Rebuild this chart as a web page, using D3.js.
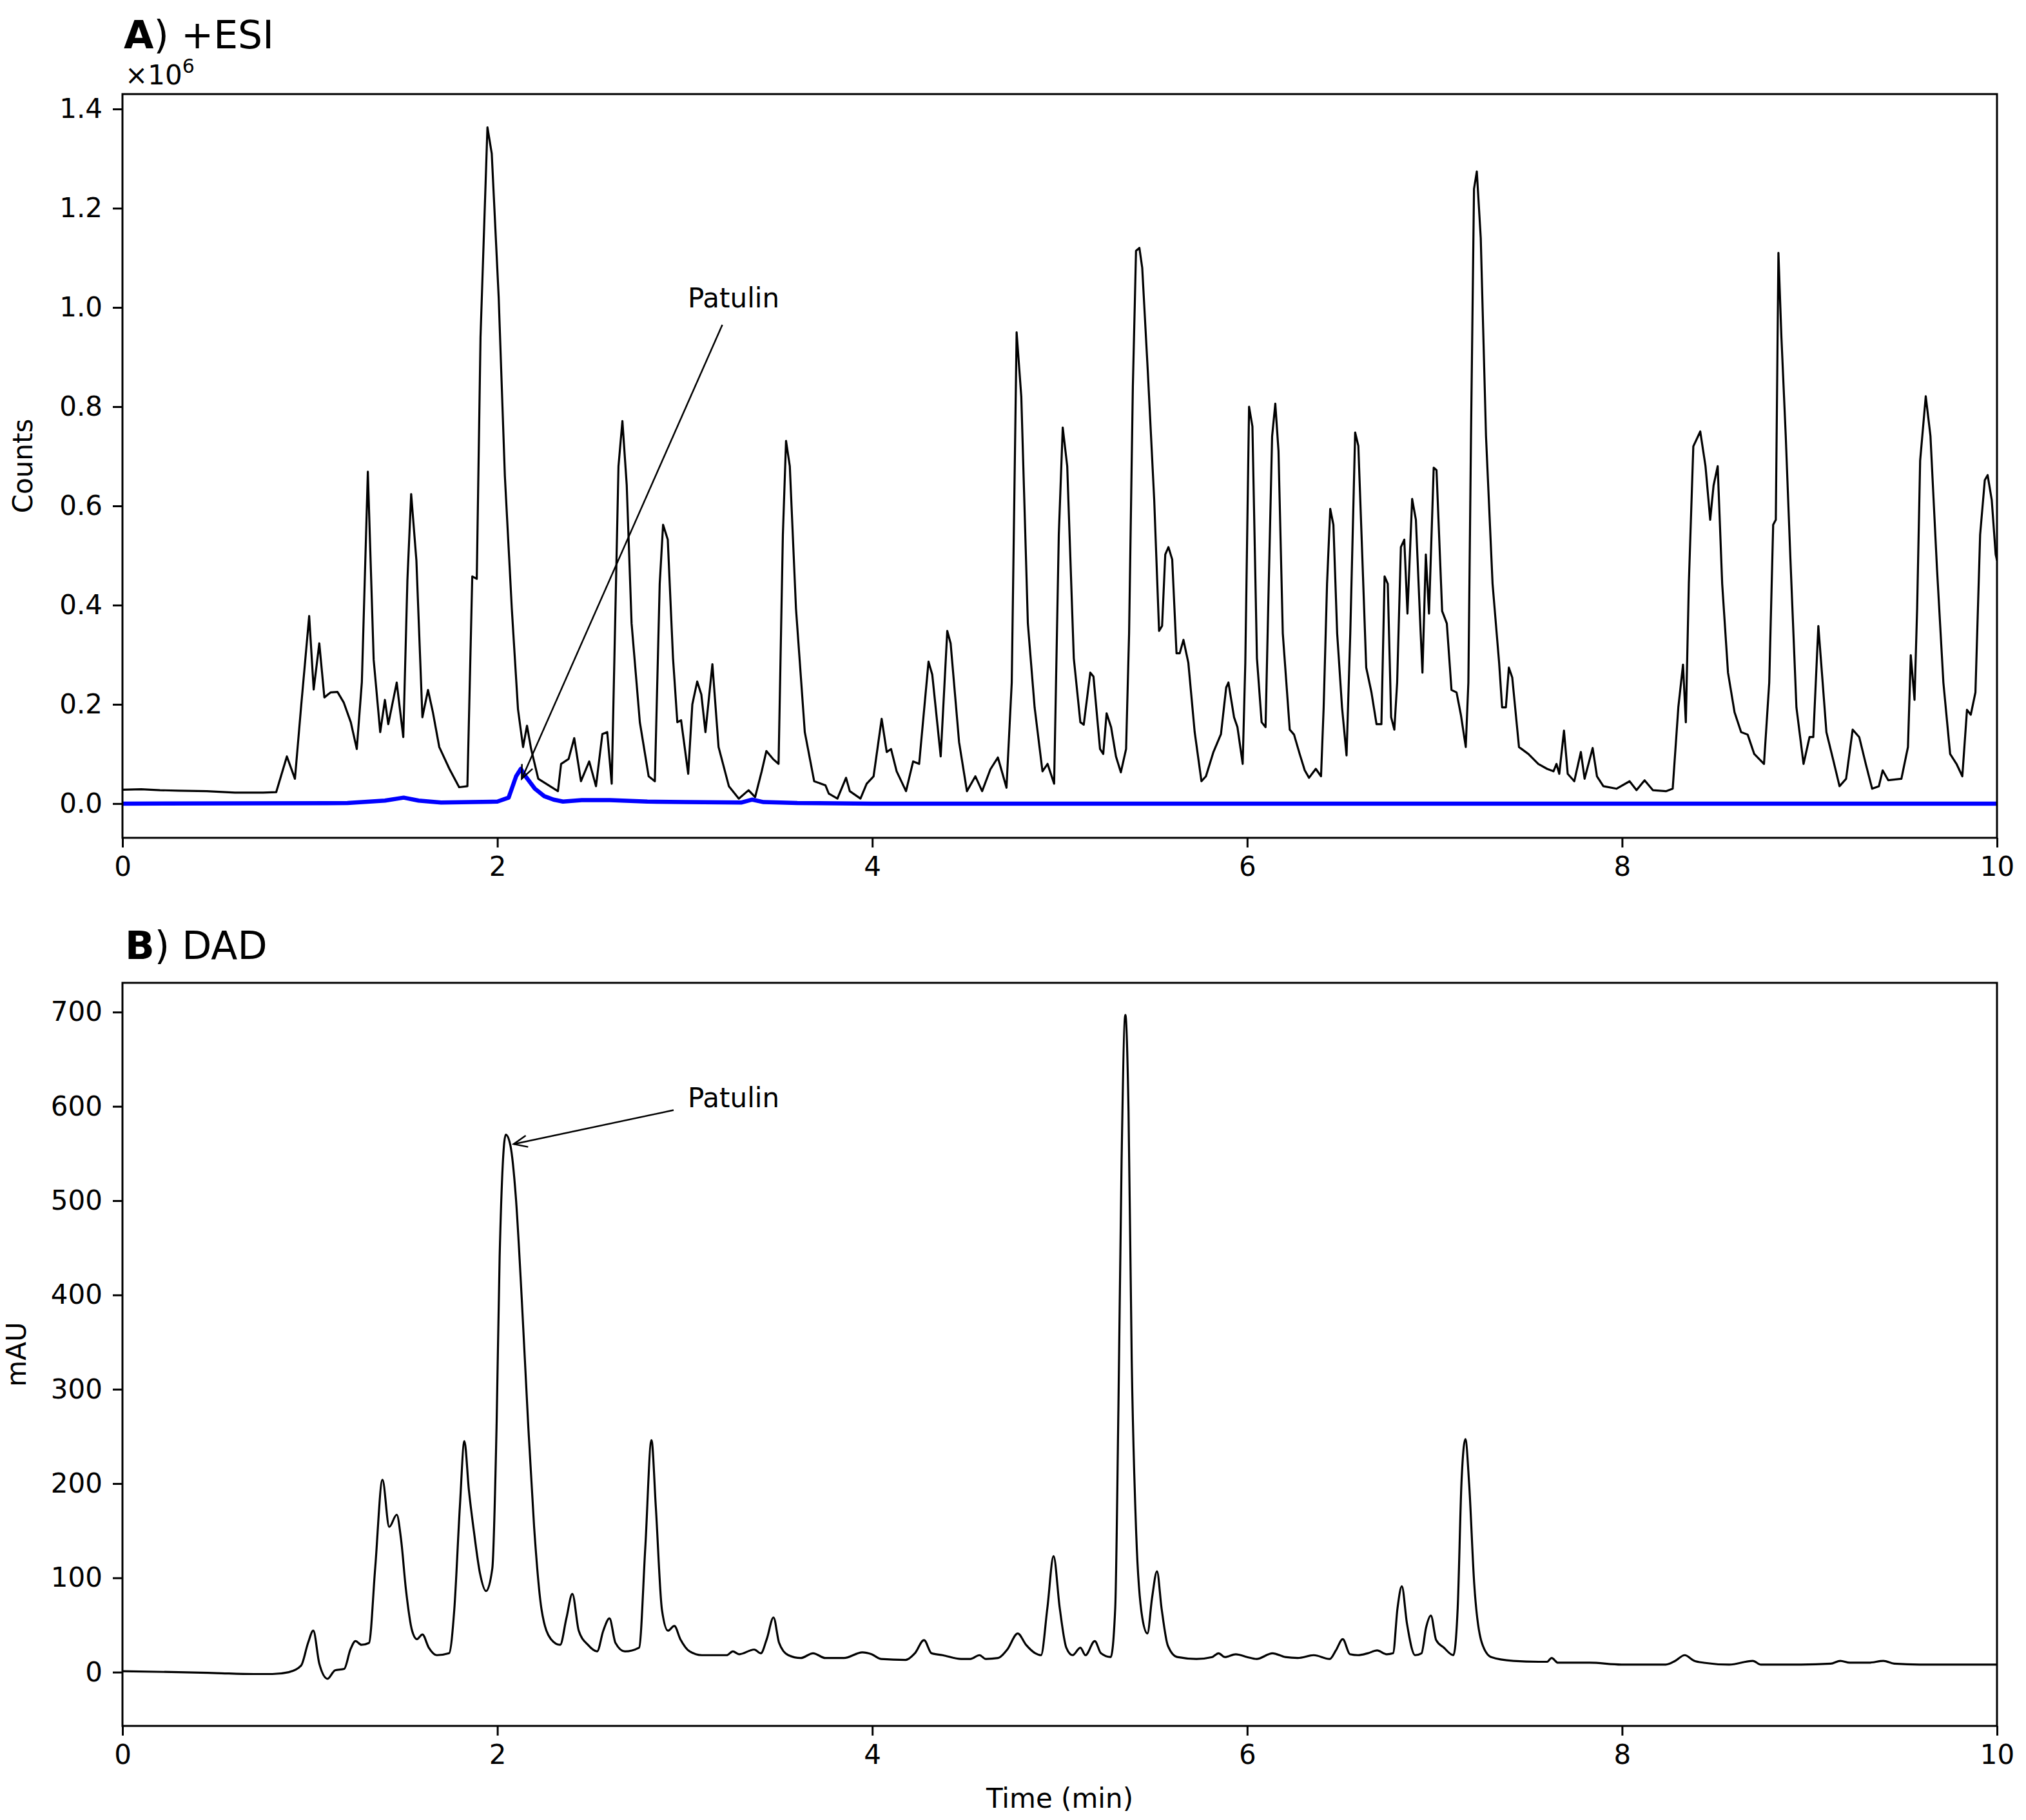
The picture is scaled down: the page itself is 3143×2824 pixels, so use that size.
<!DOCTYPE html>
<html>
<head>
<meta charset="utf-8">
<script src="https://cdn.jsdelivr.net/npm/d3@7"></script>
<style>
  body { margin: 0; background: #fff; }
  text { font-family: "DejaVu Sans", sans-serif; }
</style>
</head>
<body>
<div id="chart"></div>
<script>
// ---- data ----
// panel A: +ESI total ion chromatogram (counts x10^6)
const esiTime = [0,0.1,0.2,0.3,0.45,0.6,0.75,0.82,0.877,0.92,0.954,0.996,1.02,1.05,1.077,1.11,1.147,1.18,1.218,1.25,1.277,1.309,1.34,1.375,1.4,1.418,1.463,1.498,1.52,1.54,1.568,1.6,1.63,1.656,1.69,1.744,1.796,1.84,1.866,1.89,1.91,1.947,1.97,2.007,2.04,2.077,2.11,2.137,2.158,2.18,2.218,2.323,2.34,2.38,2.41,2.446,2.49,2.526,2.56,2.586,2.61,2.646,2.667,2.69,2.716,2.76,2.807,2.84,2.866,2.884,2.909,2.937,2.96,2.98,3.018,3.04,3.066,3.088,3.11,3.147,3.18,3.235,3.288,3.34,3.375,3.41,3.435,3.47,3.5,3.523,3.54,3.56,3.593,3.64,3.69,3.75,3.768,3.814,3.86,3.88,3.937,3.97,4.007,4.05,4.077,4.1,4.13,4.18,4.218,4.25,4.3,4.32,4.365,4.4,4.418,4.463,4.505,4.55,4.586,4.63,4.67,4.716,4.744,4.77,4.795,4.83,4.866,4.908,4.935,4.97,4.995,5.016,5.04,5.075,5.11,5.128,5.163,5.18,5.215,5.232,5.25,5.274,5.3,5.326,5.354,5.37,5.39,5.407,5.425,5.44,5.47,5.504,5.53,5.546,5.563,5.58,5.6,5.623,5.64,5.66,5.686,5.72,5.756,5.78,5.82,5.86,5.888,5.9,5.93,5.948,5.976,5.99,6.01,6.028,6.052,6.077,6.098,6.115,6.133,6.15,6.167,6.19,6.227,6.25,6.28,6.307,6.33,6.366,6.394,6.408,6.426,6.443,6.46,6.48,6.506,6.53,6.55,6.576,6.593,6.61,6.635,6.663,6.69,6.716,6.733,6.75,6.768,6.785,6.8,6.82,6.838,6.855,6.88,6.9,6.925,6.935,6.953,6.97,6.995,7.01,7.04,7.065,7.09,7.117,7.14,7.166,7.18,7.194,7.21,7.225,7.246,7.274,7.309,7.344,7.36,7.38,7.396,7.414,7.45,7.5,7.553,7.6,7.634,7.65,7.665,7.69,7.71,7.745,7.78,7.8,7.843,7.866,7.9,7.97,8.04,8.077,8.12,8.164,8.234,8.27,8.3,8.325,8.34,8.356,8.38,8.417,8.445,8.47,8.488,8.51,8.534,8.565,8.6,8.635,8.67,8.705,8.757,8.785,8.806,8.82,8.834,8.85,8.873,8.898,8.93,8.968,9.0,9.02,9.047,9.07,9.09,9.125,9.16,9.195,9.23,9.265,9.3,9.334,9.37,9.39,9.42,9.49,9.525,9.54,9.56,9.574,9.59,9.62,9.645,9.68,9.714,9.75,9.784,9.815,9.84,9.86,9.885,9.91,9.935,9.95,9.972,9.993,10];
const esiCounts = [0.028,0.029,0.027,0.026,0.025,0.022,0.022,0.023,0.095,0.05,0.2,0.378,0.23,0.323,0.214,0.224,0.225,0.204,0.164,0.11,0.245,0.669,0.29,0.144,0.209,0.16,0.244,0.134,0.45,0.624,0.49,0.174,0.229,0.184,0.114,0.07,0.033,0.035,0.458,0.453,0.94,1.363,1.31,1.02,0.66,0.393,0.19,0.114,0.157,0.11,0.05,0.025,0.08,0.09,0.132,0.045,0.085,0.035,0.14,0.144,0.04,0.68,0.771,0.642,0.363,0.164,0.055,0.045,0.443,0.562,0.532,0.293,0.164,0.168,0.06,0.2,0.246,0.22,0.144,0.281,0.114,0.035,0.01,0.027,0.013,0.065,0.106,0.09,0.08,0.542,0.731,0.68,0.393,0.144,0.045,0.037,0.02,0.01,0.052,0.025,0.01,0.04,0.055,0.171,0.104,0.11,0.065,0.025,0.085,0.08,0.286,0.26,0.095,0.348,0.323,0.124,0.025,0.055,0.025,0.069,0.093,0.032,0.244,0.95,0.82,0.363,0.194,0.065,0.08,0.04,0.542,0.758,0.68,0.293,0.164,0.159,0.264,0.256,0.11,0.1,0.182,0.154,0.095,0.063,0.11,0.343,0.84,1.114,1.12,1.08,0.87,0.612,0.348,0.358,0.502,0.517,0.492,0.303,0.303,0.33,0.284,0.144,0.045,0.055,0.104,0.14,0.234,0.244,0.174,0.154,0.08,0.284,0.8,0.76,0.293,0.164,0.154,0.443,0.74,0.806,0.711,0.343,0.149,0.139,0.1,0.067,0.052,0.07,0.055,0.194,0.443,0.594,0.562,0.343,0.194,0.097,0.343,0.748,0.721,0.542,0.274,0.224,0.16,0.16,0.458,0.443,0.174,0.149,0.244,0.517,0.532,0.383,0.614,0.572,0.348,0.264,0.502,0.383,0.677,0.672,0.388,0.363,0.229,0.224,0.179,0.114,0.244,0.741,1.239,1.274,1.14,0.741,0.443,0.284,0.194,0.194,0.274,0.254,0.114,0.1,0.08,0.07,0.065,0.08,0.06,0.147,0.06,0.045,0.104,0.05,0.112,0.055,0.035,0.03,0.045,0.027,0.047,0.027,0.025,0.03,0.194,0.28,0.164,0.443,0.72,0.75,0.68,0.572,0.641,0.68,0.443,0.264,0.184,0.144,0.139,0.1,0.08,0.244,0.562,0.572,1.11,0.94,0.741,0.493,0.194,0.08,0.134,0.134,0.358,0.244,0.144,0.09,0.035,0.05,0.149,0.134,0.08,0.03,0.035,0.067,0.047,0.05,0.114,0.299,0.209,0.393,0.691,0.821,0.741,0.473,0.244,0.1,0.08,0.055,0.189,0.179,0.224,0.542,0.652,0.662,0.612,0.502,0.49];

// panel A: patulin extracted ion trace (blue)
const eicTime = [0,1.2,1.4,1.5,1.58,1.7,2.0,2.06,2.1,2.125,2.15,2.2,2.25,2.3,2.35,2.45,2.6,2.8,3.0,3.3,3.36,3.42,3.6,4.0,10];
const eicCounts = [0,0.001,0.006,0.012,0.006,0.002,0.004,0.012,0.055,0.07,0.055,0.03,0.015,0.008,0.004,0.007,0.007,0.004,0.003,0.002,0.008,0.003,0.001,0,0];

// panel B: DAD trace (mAU)
const dadTime = [0,0.3,0.5,0.7,0.8,0.887,0.953,0.99,1.018,1.05,1.094,1.134,1.183,1.216,1.243,1.275,1.315,1.348,1.387,1.423,1.463,1.486,1.512,1.545,1.571,1.6,1.634,1.677,1.742,1.77,1.8,1.824,1.848,1.875,1.907,1.94,1.973,1.996,2.012,2.045,2.07,2.098,2.13,2.164,2.196,2.236,2.286,2.335,2.368,2.4,2.434,2.483,2.532,2.565,2.598,2.63,2.68,2.756,2.789,2.822,2.845,2.878,2.91,2.944,2.976,3.026,3.091,3.223,3.256,3.29,3.37,3.405,3.437,3.473,3.503,3.552,3.618,3.684,3.75,3.849,3.947,3.996,4.046,4.177,4.227,4.276,4.316,4.375,4.474,4.523,4.572,4.605,4.671,4.72,4.776,4.82,4.87,4.9,4.934,4.967,5.0,5.035,5.069,5.11,5.137,5.187,5.22,5.272,5.296,5.313,5.33,5.35,5.367,5.384,5.408,5.441,5.468,5.492,5.519,5.543,5.577,5.627,5.729,5.813,5.847,5.881,5.939,6.0,6.05,6.135,6.203,6.27,6.355,6.44,6.473,6.51,6.548,6.592,6.643,6.693,6.744,6.778,6.802,6.825,6.852,6.896,6.93,6.954,6.98,7.008,7.049,7.1,7.123,7.143,7.164,7.184,7.211,7.252,7.302,7.42,7.556,7.6,7.624,7.658,7.827,7.996,8.233,8.284,8.334,8.385,8.436,8.571,8.697,8.741,8.91,9.113,9.164,9.215,9.316,9.394,9.452,9.587,10];
const dadMau = [1,0,-1,-2,-2,0,7,31,44,9,-7,2,3.5,24,33,29,31,110,204,154,167,141,88,44,35,40,26,18,20,66,176,245,193,149,105,86,110,264,440,570,558,505,396,264,154,66,35,29,57,83,44,29,22,44,57,31,22,26,132,246,176,66,44,49,35,22,18,18,22,19,24,20,35,58,31,18,15,20,15,15,21,19,14,13,20,34,20,18,14,14,18,14,15,24,41,29,20,18,68,123,68,26,18,26,18,33,20,16,68,279,543,697,595,331,147,57,41,78,107,68,28,16,14,16,20,16,19,16,14,20,16,15,18,14,23,35,19,18,20,23,19,20,68,91,52,18,20,47,60,34,26,18,68,200,247,200,94,31,16,12,11,11,15,10,10,8,8,12,18,12,10,8,12,8,8,9,12,10,10,12,9,8,8];

// ticks and labels
const timeTicks = [0, 2, 4, 6, 8, 10];
const esiTicks = [0, 0.2, 0.4, 0.6, 0.8, 1.0, 1.2, 1.4];
const dadTicks = [0, 100, 200, 300, 400, 500, 600, 700];
// annotation: [text x, text y, arrow tail x, tail y, tip x, tip y] in data units
const patulinA = [3.26, 1.0, 3.2, 0.965, 2.13, 0.05];
const patulinB = [3.26, 599, 2.94, 596, 2.087, 560];

// ---- geometry ----
const W = 3143, H = 2824;
const left = 190, right = 3098;
const fs = 42;

const svg = d3.select("#chart").append("svg")
  .attr("width", W).attr("height", H)
  .attr("viewBox", `0 0 ${W} ${H}`);

svg.append("defs").append("marker")
  .attr("id", "head")
  .attr("markerUnits", "userSpaceOnUse")
  .attr("viewBox", "-2 -12 26 24")
  .attr("markerWidth", 26).attr("markerHeight", 24)
  .attr("refX", 21).attr("refY", 0)
  .attr("orient", "auto")
  .append("path")
    .attr("d", "M0,-9L21,0L0,9")
    .attr("fill", "none").attr("stroke", "#000").attr("stroke-width", 2.5);

const x = d3.scaleLinear().domain([0, 10]).range([left, right]);

function panel(id, top, bottom, yDomain, yTicks, fmt, ylab, ylabX) {
  const y = d3.scaleLinear().domain(yDomain).range([bottom, top]);
  const g = svg.append("g");

  g.append("clipPath").attr("id", "clip" + id)
    .append("rect").attr("x", left).attr("y", top)
    .attr("width", right - left).attr("height", bottom - top);

  const xa = g.append("g").attr("transform", `translate(0,${bottom})`)
    .call(d3.axisBottom(x).tickValues(timeTicks).tickFormat(d3.format("d")).tickSize(15).tickPadding(14));
  const ya = g.append("g").attr("transform", `translate(${left},0)`)
    .call(d3.axisLeft(y).tickValues(yTicks).tickFormat(fmt).tickSize(15).tickPadding(16));
  [xa, ya].forEach(a => {
    a.select(".domain").remove();
    a.selectAll("line").attr("stroke", "#000").attr("stroke-width", 3);
    a.selectAll("text").attr("font-size", fs).attr("fill", "#000")
      .attr("font-family", "DejaVu Sans");
  });

  g.append("text")
    .attr("transform", `translate(${ylabX},${(top + bottom) / 2}) rotate(-90)`)
    .attr("text-anchor", "middle")
    .attr("font-size", fs)
    .text(ylab);

  return {g, y};
}

function trace(p, id, xs, ys, color, width, curve) {
  const pts = xs.map((t, i) => [t, ys[i]]);
  p.g.append("path")
    .datum(pts)
    .attr("clip-path", `url(#clip${id})`)
    .attr("fill", "none")
    .attr("stroke", color)
    .attr("stroke-width", width)
    .attr("stroke-linejoin", "round")
    .attr("d", d3.line().x(d => x(d[0])).y(d => p.y(d[1])).curve(curve));
}

function frame(top, bottom) {
  svg.append("rect")
    .attr("x", left).attr("y", top)
    .attr("width", right - left).attr("height", bottom - top)
    .attr("fill", "none").attr("stroke", "#000").attr("stroke-width", 3);
}

function note(p, a) {
  p.g.append("line")
    .attr("x1", x(a[2])).attr("y1", p.y(a[3]))
    .attr("x2", x(a[4])).attr("y2", p.y(a[5]))
    .attr("stroke", "#000").attr("stroke-width", 2.5)
    .attr("marker-end", "url(#head)");
  p.g.append("text")
    .attr("x", x(a[0])).attr("y", p.y(a[1]))
    .attr("text-anchor", "middle")
    .attr("font-size", fs)
    .text("Patulin");
}

// panel A
const pA = panel("A", 146, 1300, [-0.069, 1.43], esiTicks, d3.format(".1f"), "Counts", 50);
trace(pA, "A", esiTime, esiCounts, "#000", 3.2, d3.curveLinear);
trace(pA, "A", eicTime, eicCounts, "#0000ff", 6.5, d3.curveLinear);
note(pA, patulinA);
frame(146, 1300);

const tA = svg.append("text").attr("x", 192).attr("y", 75).attr("font-size", 60);
tA.append("tspan").attr("font-weight", "bold").text("A");
tA.append("tspan").text(") +ESI");
const mul = svg.append("text").attr("x", 194).attr("y", 131).attr("font-size", fs);
mul.append("tspan").text("\u00d710");
mul.append("tspan").attr("font-size", 30).attr("dy", -18).text("6");

// panel B
const pB = panel("B", 1525, 2678, [-57, 731], dadTicks, d3.format("d"), "mAU", 40);
trace(pB, "B", dadTime, dadMau, "#000", 3.2, d3.curveMonotoneX);
note(pB, patulinB);
frame(1525, 2678);

const tB = svg.append("text").attr("x", 194).attr("y", 1488).attr("font-size", 60);
tB.append("tspan").attr("font-weight", "bold").text("B");
tB.append("tspan").text(") DAD");

svg.append("text")
  .attr("x", (left + right) / 2).attr("y", 2805)
  .attr("text-anchor", "middle")
  .attr("font-size", fs)
  .text("Time (min)");
</script>
</body>
</html>
